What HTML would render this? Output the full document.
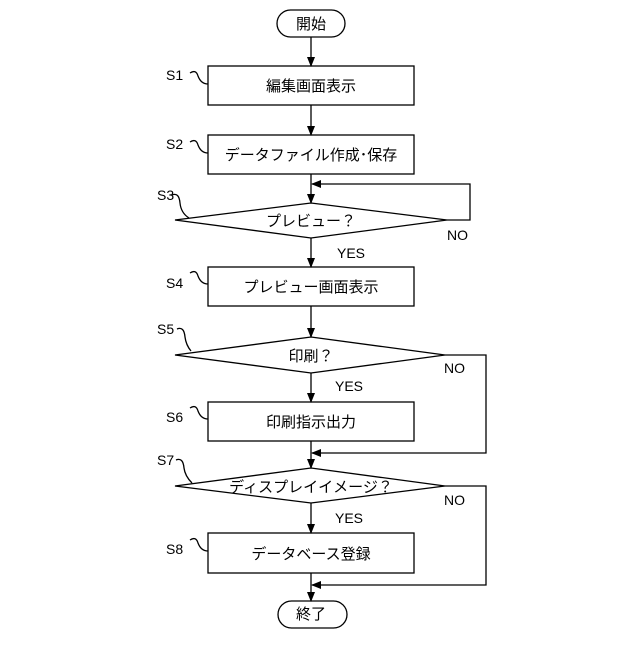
<!DOCTYPE html>
<html><head><meta charset="utf-8"><style>
body{margin:0;background:#fff}
svg text{font-family:"Liberation Sans","Noto Sans CJK JP",sans-serif;fill:#000}
</style></head><body>
<svg width="640" height="640" viewBox="0 0 640 640" xmlns="http://www.w3.org/2000/svg">
<defs><marker id="a" markerWidth="10" markerHeight="10" refX="9" refY="5" orient="auto" markerUnits="userSpaceOnUse"><path d="M0,1 L10,5 L0,9 Z" fill="#000"/></marker></defs>
<g fill="none" stroke="#000" stroke-width="1.3">
<rect x="277" y="10" width="68" height="27" rx="13.5"/>
<rect x="278" y="601" width="69" height="27" rx="13.5"/>
<rect x="208" y="66" width="206" height="39"/>
<rect x="208" y="135" width="206" height="39"/>
<rect x="208" y="267" width="206" height="39"/>
<rect x="208" y="402" width="206" height="39"/>
<rect x="208" y="533" width="206" height="40"/>
<path d="M175,220 L311,203 L447,220 L311,238 Z"/>
<path d="M175,355 L311,337 L445,355 L311,373 Z"/>
<path d="M175,486 L311,468 L445,486 L311,503 Z"/>
<path d="M311,37 V66" marker-end="url(#a)"/>
<path d="M311,105 V135" marker-end="url(#a)"/>
<path d="M311,174 V203" marker-end="url(#a)"/>
<path d="M311,238 V267" marker-end="url(#a)"/>
<path d="M311,306 V337" marker-end="url(#a)"/>
<path d="M311,373 V402" marker-end="url(#a)"/>
<path d="M311,441 V468" marker-end="url(#a)"/>
<path d="M311,503 V533" marker-end="url(#a)"/>
<path d="M311,573 V601" marker-end="url(#a)"/>
<path d="M447,220 H470 V184 H312" marker-end="url(#a)"/>
<path d="M445,355 H486 V453 H312" marker-end="url(#a)"/>
<path d="M445,486 H486 V585 H312" marker-end="url(#a)"/>
<path d="M190,73 q6,-4 8,3 q3,8 10,8"/>
<path d="M190,142 q6,-4 8,3 q3,8 10,8"/>
<path d="M190,273 q6,-4 8,3 q3,8 10,8"/>
<path d="M190,408 q6,-4 8,3 q3,8 10,8"/>
<path d="M190,540 q6,-4 8,3 q3,8 10,8"/>
<path d="M172,195 q7,-3 8,8 q1,10 9,15"/>
<path d="M177,329 q7,-3 8,8 q1,8 6,14"/>
<path d="M176,460 q7,-3 8,8 q1,8 8,15"/>
</g>
<g font-size="15" text-anchor="middle">
<text x="311" y="29">開始</text>
<text x="311" y="592" dy="27">終了</text>
<text x="311" y="91">編集画面表示</text>
<text x="311" y="160">データファイル作成･保存</text>
<text x="311" y="226">プレビュー？</text>
<text x="311" y="292">プレビュー画面表示</text>
<text x="311" y="361">印刷？</text>
<text x="311" y="427">印刷指示出力</text>
<text x="311" y="492">ディスプレイイメージ？</text>
<text x="311" y="559">データベース登録</text>
</g>
<g font-size="14">
<text x="166" y="80">S1</text>
<text x="166" y="149">S2</text>
<text x="157" y="200">S3</text>
<text x="166" y="288">S4</text>
<text x="157" y="334">S5</text>
<text x="166" y="422">S6</text>
<text x="157" y="465">S7</text>
<text x="166" y="554">S8</text>
<text x="337" y="258">YES</text>
<text x="335" y="391">YES</text>
<text x="335" y="523">YES</text>
<text x="447" y="240">NO</text>
<text x="444" y="373">NO</text>
<text x="444" y="505">NO</text>
</g>
</svg>
</body></html>
